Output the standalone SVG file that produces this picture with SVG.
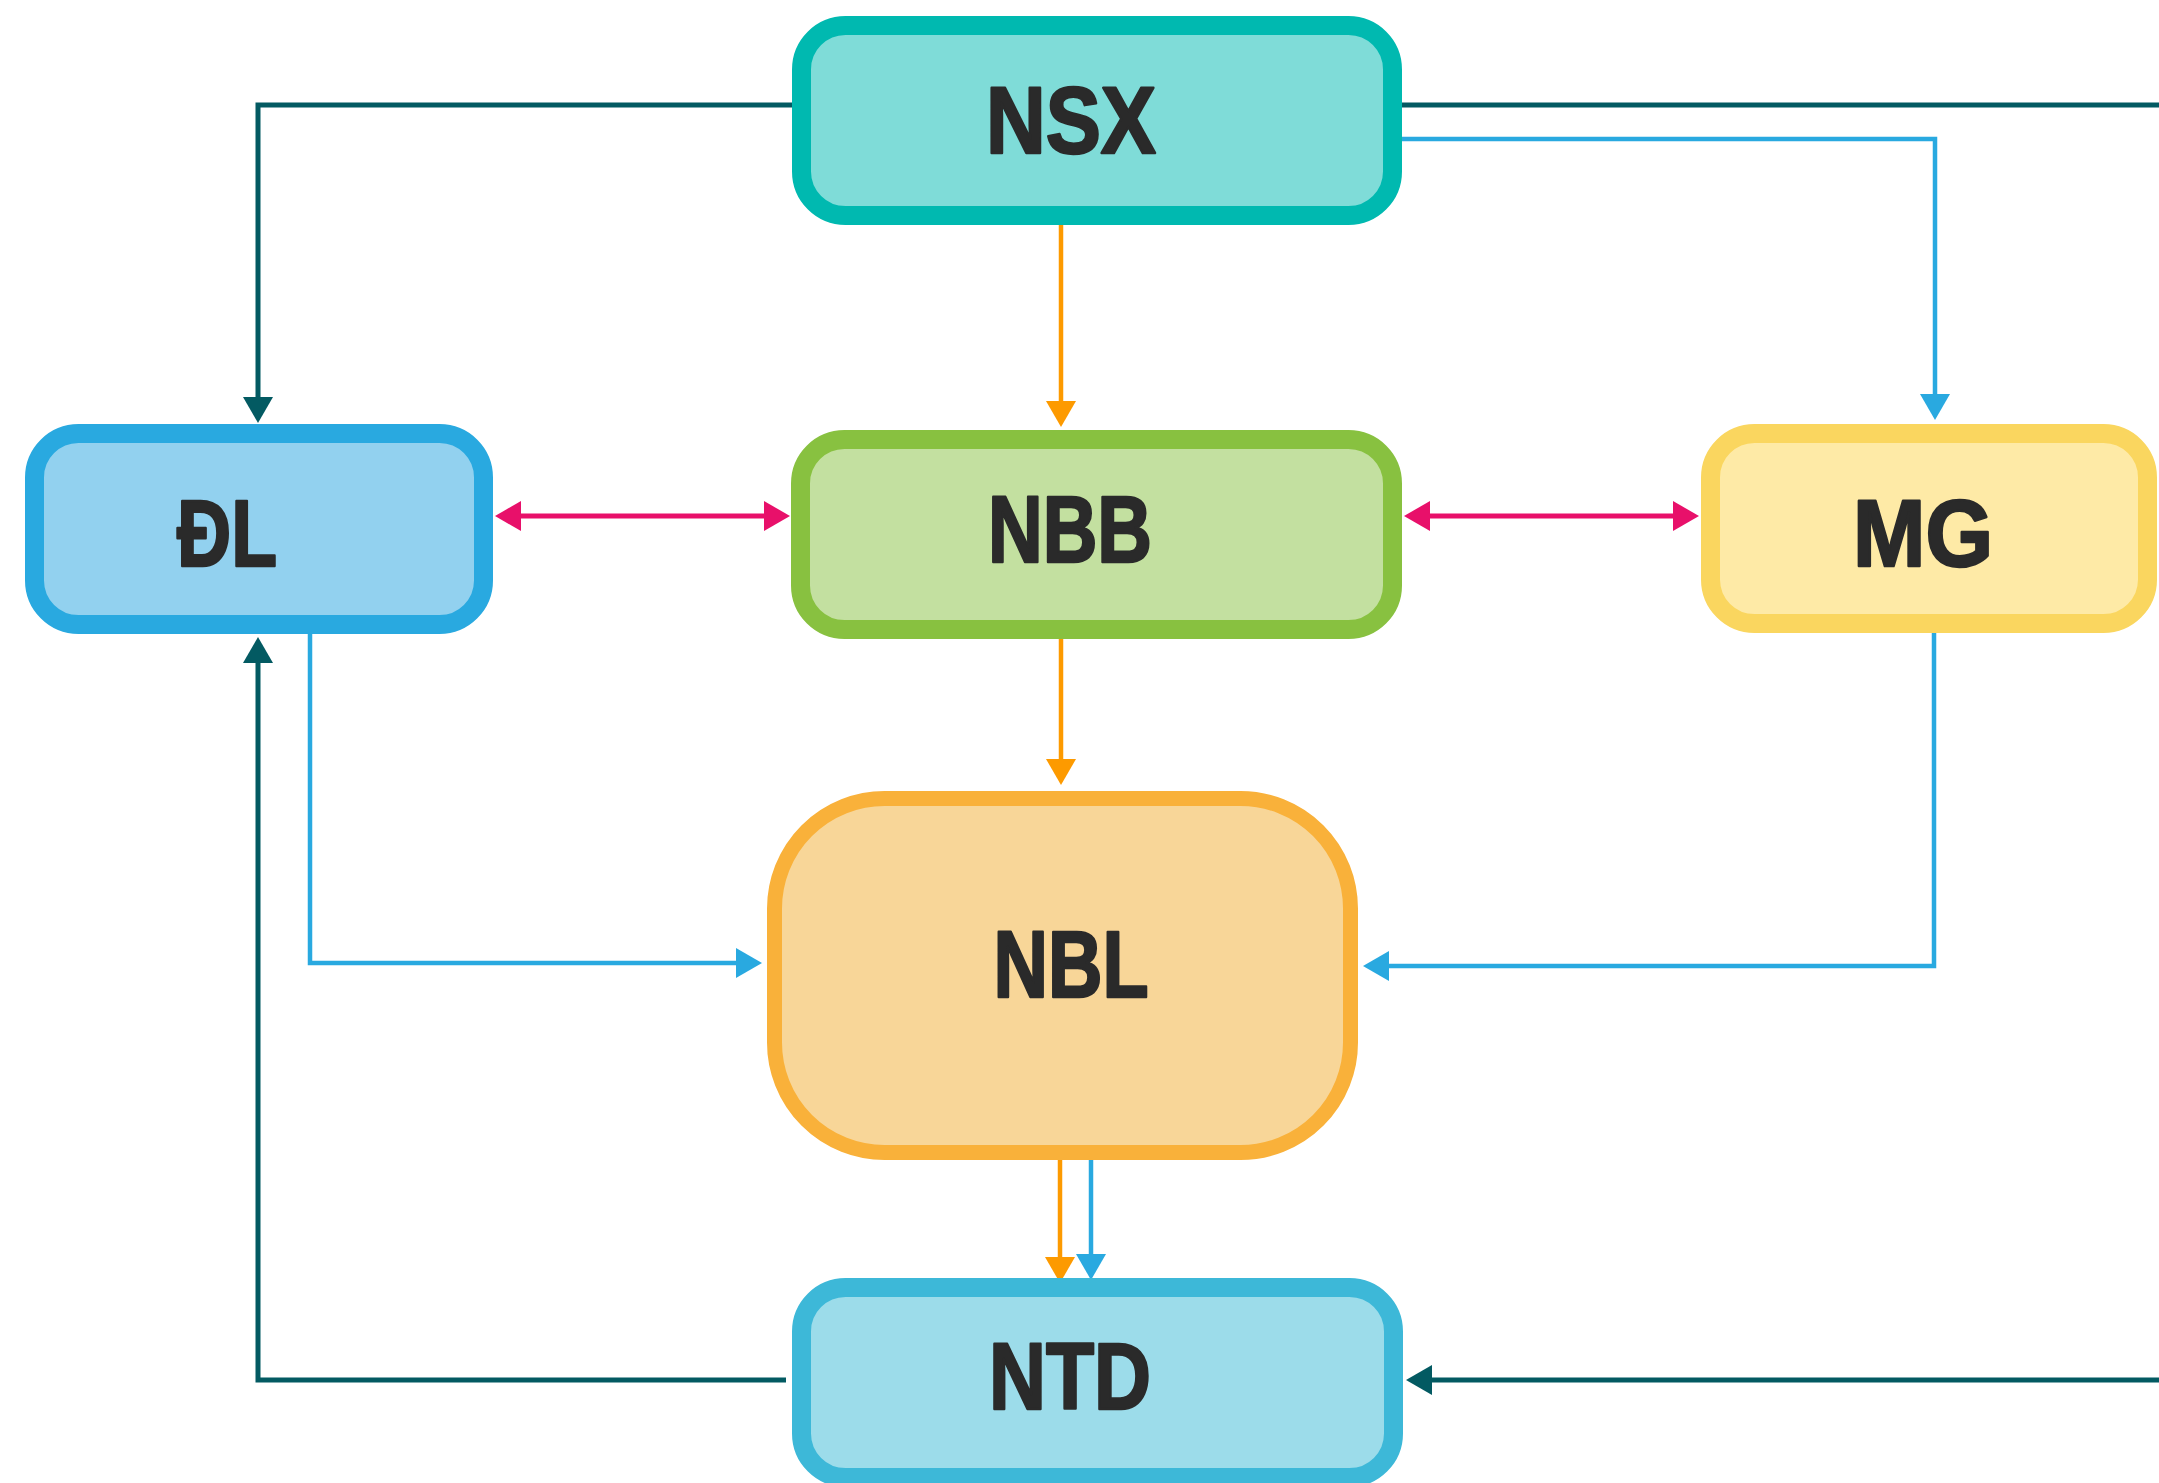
<svg xmlns="http://www.w3.org/2000/svg" width="2159" height="1483" viewBox="0 0 2159 1483">
<style>
.box{stroke-width:19}
.lbl{font-family:"Liberation Sans",Arial,sans-serif;font-weight:700;font-size:94px;fill:#2a2a2a;stroke:#2a2a2a;stroke-width:2.5;stroke-linejoin:round;text-anchor:middle}
.c{fill:none;stroke-linejoin:miter}
.dk{stroke:#035a62;stroke-width:5}
.bl{stroke:#29a9e0;stroke-width:4.5}
.or{stroke:#fd9a00;stroke-width:4.5}
.mg{stroke:#e8106a;stroke-width:5}
</style>
<defs>
<marker id="aDk" viewBox="0 0 26 30" refX="18" refY="15" markerWidth="26" markerHeight="30" markerUnits="userSpaceOnUse" orient="auto"><path d="M0,0 L26,15 L0,30 Z" fill="#035a62"/></marker>
<marker id="aBl" viewBox="0 0 26 30" refX="18" refY="15" markerWidth="26" markerHeight="30" markerUnits="userSpaceOnUse" orient="auto"><path d="M0,0 L26,15 L0,30 Z" fill="#29a9e0"/></marker>
<marker id="aOr" viewBox="0 0 26 30" refX="18" refY="15" markerWidth="26" markerHeight="30" markerUnits="userSpaceOnUse" orient="auto"><path d="M0,0 L26,15 L0,30 Z" fill="#fd9a00"/></marker>
<marker id="aMg" viewBox="0 0 26 30" refX="18" refY="15" markerWidth="26" markerHeight="30" markerUnits="userSpaceOnUse" orient="auto-start-reverse"><path d="M0,0 L26,15 L0,30 Z" fill="#e8106a"/></marker>
</defs>
<rect width="2159" height="1483" fill="#ffffff"/>
<g id="connectors">
<path class="c dk" d="M792,105 H258 V415" marker-end="url(#aDk)"/>
<path class="c dk" d="M1402,105 H2165"/>
<path class="c bl" d="M1402,139 H1935 V412" marker-end="url(#aBl)"/>
<path class="c or" d="M1061,225 V419" marker-end="url(#aOr)"/>
<path class="c or" d="M1061,639 V777" marker-end="url(#aOr)"/>
<path class="c mg" d="M503,516 H782" marker-start="url(#aMg)" marker-end="url(#aMg)"/>
<path class="c mg" d="M1412,516 H1691" marker-start="url(#aMg)" marker-end="url(#aMg)"/>
<path class="c bl" d="M310,634 V963 H754" marker-end="url(#aBl)"/>
<path class="c bl" d="M1934,633 V966 H1371" marker-end="url(#aBl)"/>
<path class="c or" d="M1060,1160 V1275" marker-end="url(#aOr)"/>
<path class="c bl" d="M1091,1160 V1272" marker-end="url(#aBl)"/>
<path class="c dk" d="M786,1380 H258 V645" marker-end="url(#aDk)"/>
<path class="c dk" d="M2165,1380 H1414" marker-end="url(#aDk)"/>
</g>
<g id="nsx">
<rect class="box" x="801.5" y="25.5" width="591" height="190" rx="44" fill="#7fdcd8" stroke="#00b9b0"/>
<text class="lbl" x="1071" y="153" textLength="170" lengthAdjust="spacingAndGlyphs">NSX</text>
</g>
<g id="dl">
<rect class="box" x="34.5" y="433.5" width="449" height="191" rx="44" fill="#92d1ef" stroke="#29a9e0"/>
<text class="lbl" x="227" y="566" textLength="100" lengthAdjust="spacingAndGlyphs">ĐL</text>
</g>
<g id="nbb">
<rect class="box" x="800.5" y="439.5" width="592" height="190" rx="44" fill="#c3e0a0" stroke="#88c140"/>
<text class="lbl" x="1070" y="562" textLength="164" lengthAdjust="spacingAndGlyphs">NBB</text>
</g>
<g id="mg">
<rect class="box" x="1710.5" y="433.5" width="437" height="190" rx="44" fill="#feeaa6" stroke="#fad65f"/>
<text class="lbl" x="1923" y="566" textLength="140" lengthAdjust="spacingAndGlyphs">MG</text>
</g>
<g id="nbl">
<rect x="774.5" y="798.5" width="576" height="354" rx="110" fill="#f8d698" stroke="#f9b13a" stroke-width="15"/>
<text class="lbl" x="1071" y="997" textLength="155" lengthAdjust="spacingAndGlyphs">NBL</text>
</g>
<g id="ntd">
<rect class="box" x="801.5" y="1287.5" width="592" height="190" rx="44" fill="#9cdcea" stroke="#3db8d8"/>
<text class="lbl" x="1070" y="1409" textLength="162" lengthAdjust="spacingAndGlyphs">NTD</text>
</g>
</svg>
